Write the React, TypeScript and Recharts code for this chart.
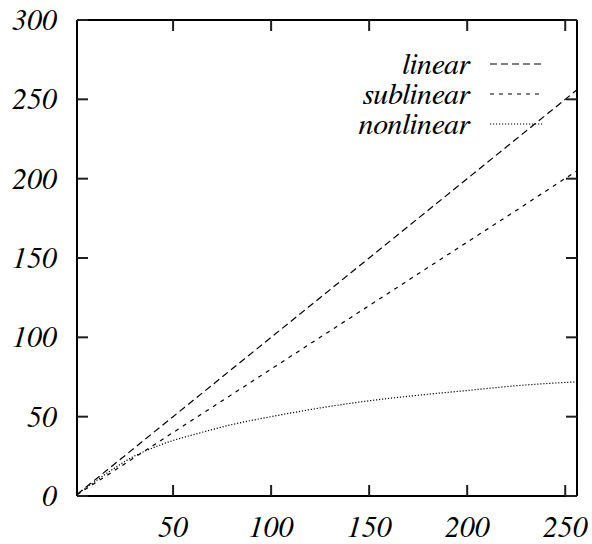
import React from 'react';
import { LineChart, Line, XAxis, YAxis, Legend } from 'recharts';

const xValues = [1, 10, 20, 30, 40, 50, 60, 80, 100, 125, 150, 175, 200, 225, 256];
const linearValues = [1, 10, 20, 30, 40, 50, 60, 80, 100, 125, 150, 175, 200, 225, 256];
const sublinearValues = [0.8, 8, 16, 24, 32, 40, 48, 64, 80, 100, 120, 140, 160, 180, 205];
const nonlinearValues = [1, 9, 17.5, 25, 30.5, 35, 38.5, 45, 50, 55.5, 60, 63.5, 66.5, 69.5, 72];

const xTicks = [50, 100, 150, 200, 250];
const yTicks = [0, 50, 100, 150, 200, 250, 300];

const series = [
  { key: 'linear', name: 'linear', dash: '7 4', type: 'linear' },
  { key: 'sublinear', name: 'sublinear', dash: '4 5', type: 'linear' },
  { key: 'nonlinear', name: 'nonlinear', dash: '1.2 1.8', type: 'monotone' }
];

const data = xValues.map((x, i) => ({
  x,
  linear: linearValues[i],
  sublinear: sublinearValues[i],
  nonlinear: nonlinearValues[i]
}));

const FONT = 'FreeSerif, Liberation Serif, serif';
const FONT_SIZE = 30;
const TICK = 11;
const TICK_COLOR = '#1e1e1e';
const frame = { stroke: '#000', strokeWidth: 2 };

// tick marks point into the plot, like gnuplot
const bottomTick = (p: any) => (
  <g key={`b-${p.index}`}>
    <rect x={p.x - 1} y={p.y - TICK} width={2} height={TICK} fill={TICK_COLOR} />
    <text x={p.x} y={p.y + 41} textAnchor="middle" fontFamily={FONT} fontStyle="italic" fontSize={FONT_SIZE} fill="#000">
      {p.payload.value}
    </text>
  </g>
);

const topTick = (p: any) => (
  <rect key={`t-${p.index}`} x={p.x - 1} y={p.y} width={2} height={TICK} fill={TICK_COLOR} />
);

const leftTick = (p: any) => (
  <g key={`l-${p.index}`}>
    <rect x={p.x} y={p.y - 1} width={TICK} height={2} fill={TICK_COLOR} />
    <text x={p.x - 20} y={p.y + 10} textAnchor="end" fontFamily={FONT} fontStyle="italic" fontSize={FONT_SIZE} fill="#000">
      {p.payload.value}
    </text>
  </g>
);

const rightTick = (p: any) => (
  <rect key={`r-${p.index}`} x={p.x - TICK} y={p.y - 1} width={TICK} height={2} fill={TICK_COLOR} />
);

const LegendBox = () => (
  <svg width={230} height={90}>
    {series.map((s, i) => (
      <g key={s.key}>
        <text x={140} y={15 + i * 30 + 10} textAnchor="end" fontFamily={FONT} fontStyle="italic" fontSize={FONT_SIZE} fill="#000">
          {s.name}
        </text>
        <line x1={160} x2={214} y1={15 + i * 30} y2={15 + i * 30} stroke="#000" strokeWidth={1.2} strokeDasharray={s.dash} />
      </g>
    ))}
  </svg>
);

export default function App() {
  return (
    <div style={{ position: 'absolute', left: 0, top: 0, background: '#fff' }}>
      <LineChart width={592} height={544} data={data} margin={{ top: 19, right: 14, left: 0, bottom: 0 }}>
        <XAxis
          dataKey="x"
          type="number"
          domain={[1, 256]}
          ticks={xTicks}
          height={48}
          tickSize={0}
          tickMargin={0}
          tickLine={false}
          tick={bottomTick}
          axisLine={frame}
          allowDataOverflow
        />
        <XAxis
          xAxisId="top"
          orientation="top"
          dataKey="x"
          type="number"
          domain={[1, 256]}
          ticks={xTicks}
          height={1}
          tickSize={0}
          tickMargin={0}
          tickLine={false}
          tick={topTick}
          axisLine={frame}
          allowDataOverflow
        />
        <YAxis
          type="number"
          domain={[0, 300]}
          ticks={yTicks}
          width={77}
          tickSize={0}
          tickMargin={0}
          tickLine={false}
          tick={leftTick}
          axisLine={frame}
          allowDataOverflow
        />
        <YAxis
          yAxisId="right"
          orientation="right"
          type="number"
          domain={[0, 300]}
          ticks={yTicks}
          width={1}
          tickSize={0}
          tickMargin={0}
          tickLine={false}
          tick={rightTick}
          axisLine={frame}
          allowDataOverflow
        />
        <Legend
          layout="horizontal"
          verticalAlign="middle"
          align="center"
          content={<LegendBox />}
          wrapperStyle={{ position: 'absolute', top: 49, left: 330, width: 230, height: 90 }}
        />
        {series.map(s => (
          <Line
            key={s.key}
            dataKey={s.key}
            name={s.name}
            type={s.type as any}
            stroke="#000"
            strokeWidth={1.2}
            strokeDasharray={s.dash}
            dot={false}
            isAnimationActive={false}
          />
        ))}
      </LineChart>
    </div>
  );
}
